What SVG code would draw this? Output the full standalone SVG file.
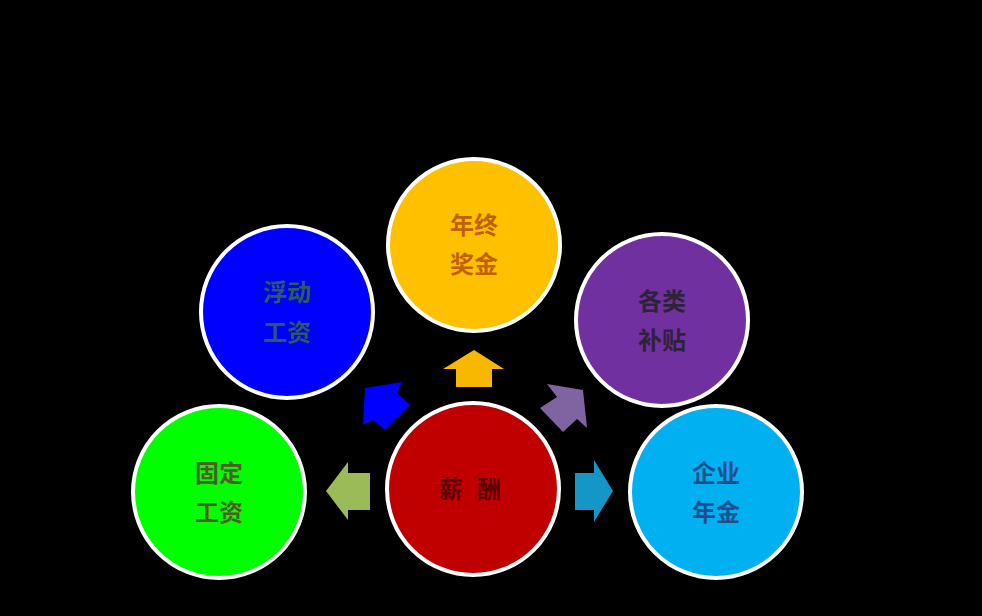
<svg xmlns="http://www.w3.org/2000/svg" width="982" height="616" viewBox="0 0 982 616">
<style>
.c{stroke:#fff;stroke-width:4}
.t{font-family:"Noto Sans CJK SC","Noto Sans CJK TC",sans-serif;font-size:24px;font-weight:bold;text-anchor:middle}
</style>
<rect width="982" height="616" fill="#000"/>
<g id="connectors">
<polygon points="326,491 348,462 348,473 370,473 370,510 348,510 348,520" fill="#9BBB59"/>
<polygon points="613,491 594,460 594,473 575,473 575,510 594,510 594,522" fill="#1496C6"/>
<polygon points="474,350 504,369 492,369 492,387 456,387 456,369 443,369" fill="#F8B800"/>
<polygon points="365,388 402,382 397,393 410,405 385,430 373,420 363,425" fill="#0000FF"/>
<polygon points="583,390 547,384 557,397 540,408 563,432 577,419 587,428" fill="#8064A2"/>
</g>
<g id="node-xinchou">
<circle class="c" cx="473" cy="489" r="86" fill="#C00000"/>
<text class="t" x="477" y="498" fill="#5A0000" letter-spacing="14" font-weight="normal">薪酬</text>
</g>
<g id="node-nianzhong">
<circle class="c" cx="474" cy="245" r="86" fill="#FFC000"/>
<text class="t" x="474" y="234" fill="#C0600A">年终</text>
<text class="t" x="474" y="273" fill="#C0600A">奖金</text>
</g>
<g id="node-fudong">
<circle class="c" cx="287" cy="312" r="86" fill="#0000FF"/>
<text class="t" x="287" y="301" fill="#2F5A5A">浮动</text>
<text class="t" x="287" y="341" fill="#2F5A5A">工资</text>
</g>
<g id="node-gelei">
<circle class="c" cx="662" cy="320" r="86" fill="#7030A0"/>
<text class="t" x="662" y="310" fill="#2E2238" font-weight="normal">各类</text>
<text class="t" x="662" y="349" fill="#2E2238" font-weight="normal">补贴</text>
</g>
<g id="node-guding">
<circle class="c" cx="219" cy="492" r="86" fill="#00FF00"/>
<text class="t" x="219" y="482" fill="#4F5A28">固定</text>
<text class="t" x="219" y="521" fill="#4F5A28">工资</text>
</g>
<g id="node-qiye">
<circle class="c" cx="716" cy="492" r="86" fill="#00B0F0"/>
<text class="t" x="716" y="482" fill="#1F4E8C">企业</text>
<text class="t" x="716" y="521" fill="#1F4E8C">年金</text>
</g>
</svg>
